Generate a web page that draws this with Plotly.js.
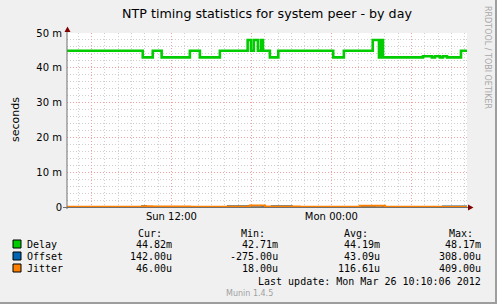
<!DOCTYPE html>
<html><head><meta charset="utf-8">
<script src="https://cdn.plot.ly/plotly-3.0.1.min.js"></script>
<style>html,body{margin:0;padding:0;background:#f0f0f0;}#g{width:497px;height:304px;}</style>
</head><body><div id="g"></div>
<script>
// ---- data ----
const delayTimes = ['2012-03-25 04:10','2012-03-25 09:51','2012-03-25 10:36','2012-03-25 11:16','2012-03-25 13:23','2012-03-25 14:08','2012-03-25 15:38','2012-03-25 17:43','2012-03-25 17:58','2012-03-25 18:11','2012-03-25 18:29','2012-03-25 18:43','2012-03-25 18:52','2012-03-25 19:23','2012-03-25 20:01','2012-03-26 00:08','2012-03-26 00:56','2012-03-26 03:06','2012-03-26 03:34','2012-03-26 03:38','2012-03-26 03:43','2012-03-26 03:47','2012-03-26 03:52','2012-03-26 06:52','2012-03-26 07:32','2012-03-26 07:46','2012-03-26 08:08','2012-03-26 08:22','2012-03-26 08:40','2012-03-26 09:43','2012-03-26 10:10'];
const delayValues = [0.0449,0.0430,0.0449,0.0430,0.0449,0.0430,0.0449,0.0480,0.0449,0.0480,0.0449,0.0480,0.0449,0.0430,0.0449,0.0430,0.0449,0.0480,0.0430,0.0480,0.0430,0.0480,0.0430,0.0433,0.0430,0.0433,0.0430,0.0433,0.0430,0.0449,0.04482];

const offsetTimes = ['2012-03-25 04:10','2012-03-25 09:48','2012-03-25 10:06','2012-03-25 10:33','2012-03-25 11:08','2012-03-25 12:03','2012-03-25 12:43','2012-03-25 13:23','2012-03-25 16:14','2012-03-25 17:53','2012-03-25 18:48','2012-03-25 19:32','2012-03-25 21:02','2012-03-25 22:14','2012-03-26 02:08','2012-03-26 03:16','2012-03-26 03:52','2012-03-26 04:55','2012-03-26 08:08','2012-03-26 08:22','2012-03-26 10:10'];
const offsetValues = [20e-6,250e-6,-150e-6,20e-6,-200e-6,30e-6,-200e-6,30e-6,200e-6,-100e-6,30e-6,250e-6,-250e-6,30e-6,250e-6,-100e-6,30e-6,-200e-6,30e-6,142e-6,142e-6];

const jitterTimes = ['2012-03-25 04:10','2012-03-25 09:48','2012-03-25 10:33','2012-03-25 13:23','2012-03-25 16:14','2012-03-25 17:53','2012-03-25 19:01','2012-03-25 21:38','2012-03-26 02:08','2012-03-26 04:01','2012-03-26 08:08','2012-03-26 10:10'];
const jitterValues = [60e-6,200e-6,150e-6,100e-6,120e-6,400e-6,150e-6,90e-6,350e-6,100e-6,46e-6,46e-6];

const seriesNames = ['Delay','Offset','Jitter'];
const seriesColors = ['#00cc00','#0066b3','#ff8000'];
const curVals = ['44.82m','142.00u','46.00u'];
const minVals = ['42.71m','-275.00u','18.00u'];
const avgVals = ['44.19m','43.09u','116.61u'];
const maxVals = ['48.17m','308.00u','409.00u'];

const yTickVals = [0,0.01,0.02,0.03,0.04,0.05];
const yTickText = ['0','10 m','20 m','30 m','40 m','50 m'];
const xTickVals = ['2012-03-25 06:00','2012-03-25 12:00','2012-03-25 18:00','2012-03-26 00:00','2012-03-26 06:00'];
const xTickText = ['','Sun 12:00','','Mon 00:00',''];

// ---- layout helpers ----
const W=497,H=304,L=67,R=30,T=33,B=97;
const pw=W-L-R, ph=H-T-B;
const px = x => (x-L)/pw;
const py = y => (H-B-y)/ph;
const FONT='DejaVu Sans', MONO='DejaVu Sans Mono';

const traces = [
  {x:delayTimes,y:delayValues,name:seriesNames[0],type:'scatter',mode:'lines',line:{shape:'hv',color:seriesColors[0],width:2.6}},
  {x:offsetTimes,y:offsetValues,name:seriesNames[1],type:'scatter',mode:'lines',line:{shape:'hv',color:seriesColors[1],width:2}},
  {x:jitterTimes,y:jitterValues,name:seriesNames[2],type:'scatter',mode:'lines',line:{shape:'hv',color:seriesColors[2],width:2}}
];

const shapes = [];
const ann = [];
// frame
shapes.push({type:'rect',xref:'paper',yref:'paper',x0:px(W-2),x1:px(W),y0:py(0),y1:py(H),fillcolor:'#9e9e9e',line:{width:0},layer:'above'});
shapes.push({type:'rect',xref:'paper',yref:'paper',x0:px(0),x1:px(W),y0:py(H-2),y1:py(H),fillcolor:'#9e9e9e',line:{width:0},layer:'above'});
// axes lines
shapes.push({type:'line',xref:'paper',yref:'paper',x0:px(67),x1:px(67),y0:py(209),y1:py(30),line:{color:'#707070',width:1},layer:'above'});
shapes.push({type:'line',xref:'paper',yref:'paper',x0:px(63),x1:px(469),y0:py(207.5),y1:py(207.5),line:{color:'#707070',width:1},layer:'above'});
// arrows
shapes.push({type:'path',xref:'paper',yref:'paper',path:`M ${px(64.5)} ${py(32)} L ${px(67.5)} ${py(26.5)} L ${px(70.5)} ${py(32)} Z`,fillcolor:'#7f0000',line:{width:0},layer:'above'});
shapes.push({type:'path',xref:'paper',yref:'paper',path:`M ${px(468)} ${py(204.5)} L ${px(473.5)} ${py(207.5)} L ${px(468)} ${py(210.5)} Z`,fillcolor:'#7f0000',line:{width:0},layer:'above'});

// legend
const rowY=[244,256,268];
const lt = (text,x,y,xanchor,opts={}) => ann.push(Object.assign({text,x:px(x),y:py(y),xref:'paper',yref:'paper',xanchor,yanchor:'middle',showarrow:false,font:{family:MONO,size:10,color:'#000'},borderpad:0},opts));
lt('Cur:',137,233,'left');
lt('Min:',240,233,'left');
lt('Avg:',343,233,'left');
lt('Max:',448,233,'left');
for(let i=0;i<3;i++){
  shapes.push({type:'rect',xref:'paper',yref:'paper',x0:px(13),x1:px(21),y0:py(rowY[i]+4),y1:py(rowY[i]-4),fillcolor:seriesColors[i],line:{color:'#000',width:1},layer:'above'});
  lt(seriesNames[i],26,rowY[i],'left');
  lt(curVals[i],173,rowY[i],'right');
  lt(minVals[i],279,rowY[i],'right');
  lt(avgVals[i],381,rowY[i],'right');
  lt(maxVals[i],482,rowY[i],'right');
}
lt('Last update: Mon Mar 26 10:10:06 2012',482,281,'right');
ann.push({text:'Munin 1.4.5',x:px(249),y:py(293),xref:'paper',yref:'paper',xanchor:'center',yanchor:'middle',showarrow:false,font:{family:FONT,size:8,color:'#a0a0a0'}});
ann.push({text:'RRDTOOL / TOBI OETIKER',x:px(488),y:py(57),xref:'paper',yref:'paper',xanchor:'center',yanchor:'middle',showarrow:false,textangle:90,font:{family:FONT,size:8,color:'#a8a8a8'}});
ann.push({text:'seconds',x:px(15),y:py(120),xref:'paper',yref:'paper',xanchor:'center',yanchor:'middle',showarrow:false,textangle:-90,font:{family:FONT,size:11,color:'#000'}});

const layout = {
  width:W,height:H,
  margin:{l:L,r:R,t:T,b:B,pad:0},
  paper_bgcolor:'#f0f0f0',plot_bgcolor:'#ffffff',
  showlegend:false,
  font:{family:FONT,size:10,color:'#000'},
  title:{text:'NTP timing statistics for system peer - by day',x:0.5,xref:'paper',xanchor:'center',y:1-14/H,yanchor:'middle',font:{family:FONT,size:12.7,color:'#000'}},
  xaxis:{type:'date',range:['2012-03-25 04:10:06','2012-03-26 10:10:06'],tickmode:'array',tickvals:xTickVals,ticktext:xTickText,
    showgrid:true,gridcolor:'#f4a0a0',griddash:'1px,2px',gridwidth:1,zeroline:false,showline:false,ticks:'',ticklabelstandoff:2,
    tickfont:{family:FONT,size:10,color:'#000'},
    minor:{tickmode:'linear',tick0:'2012-03-25 00:00',dtick:3600000,showgrid:true,gridcolor:'#cfcfcf',griddash:'1px,2px',gridwidth:1}},
  yaxis:{range:[0,0.05],tickmode:'array',tickvals:yTickVals,ticktext:yTickText,showgrid:true,gridcolor:'#f4a0a0',griddash:'1px,2px',gridwidth:1,
    zeroline:false,showline:false,ticks:'',ticklabelstandoff:4,tickfont:{family:FONT,size:10,color:'#000'},
    minor:{tickmode:'linear',tick0:0,dtick:0.002,showgrid:true,gridcolor:'#cfcfcf',griddash:'1px,2px',gridwidth:1}},
  shapes:shapes,annotations:ann
};
Plotly.newPlot('g',traces,layout,{displayModeBar:false,staticPlot:true});
</script></body></html>
